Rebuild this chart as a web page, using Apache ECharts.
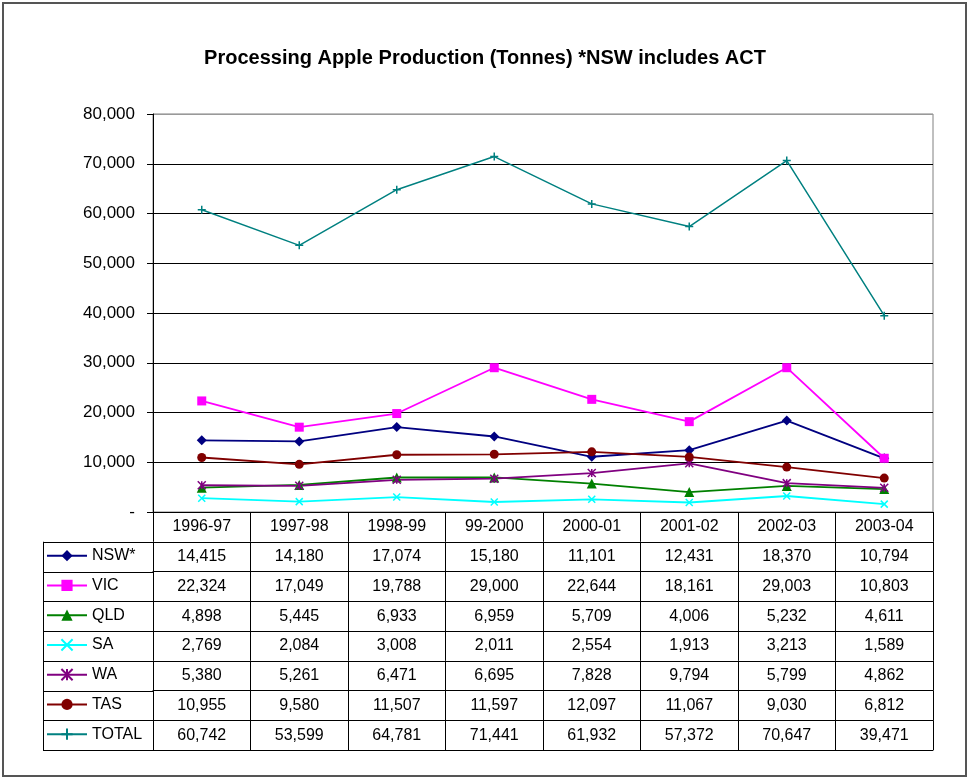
<!DOCTYPE html>
<html>
<head>
<meta charset="utf-8">
<script src="https://cdn.jsdelivr.net/npm/echarts@6/dist/echarts.min.js"></script>
<style>
html,body{margin:0;padding:0;background:#fff;}
#chart{width:970px;height:780px;}
</style>
</head>
<body>
<div id="chart"></div>
<script>
const categories = ['1996-97','1997-98','1998-99','99-2000','2000-01','2001-02','2002-03','2003-04'];
const seriesNames = ['NSW*','VIC','QLD','SA','WA','TAS','TOTAL'];
const nsw   = [14415,14180,17074,15180,11101,12431,18370,10794];
const vic   = [22324,17049,19788,29000,22644,18161,29003,10803];
const qld   = [4898,5445,6933,6959,5709,4006,5232,4611];
const sa    = [2769,2084,3008,2011,2554,1913,3213,1589];
const wa    = [5380,5261,6471,6695,7828,9794,5799,4862];
const tas   = [10955,9580,11507,11597,12097,11067,9030,6812];
const total = [60742,53599,64781,71441,61932,57372,70647,39471];
const yTicks = [0,10000,20000,30000,40000,50000,60000,70000,80000];

const seriesData = [nsw, vic, qld, sa, wa, tas, total];
const colors = ['#000080','#FF00FF','#008000','#00FFFF','#800080','#800000','#008080'];
const symbols = ['diamond','rect','triangle','path://M0,0L10,10M10,0L0,10','path://M5,0L5,10M0,0L10,10M10,0L0,10','circle','path://M5,0L5,10M0,5L10,5'];
const symbolSizes = [10,9,10,7,8,9,8];

const FONT = 'Liberation Sans';
const fmt = v => Number(v).toLocaleString('en-US');

const GRID_LEFT = 153, GRID_TOP = 114, GRID_RIGHT = 37, GRID_BOTTOM = 268;
const ROW_H = 29.75;
const HEADER_H = 29.75;

const chart = echarts.init(document.getElementById('chart'), null, {renderer:'canvas'});

const xAxes = [];
xAxes.push({
  type:'category', data:categories, gridIndex:0, position:'bottom', offset:0,
  boundaryGap:true,
  axisLine:{show:true, lineStyle:{color:'#000', width:1}},
  axisTick:{show:true, length:HEADER_H, interval:0, lineStyle:{color:'#000', width:1}},
  axisLabel:{show:true, interval:0, margin:7, fontSize:16, color:'#000', fontFamily:FONT},
  splitLine:{show:false}
});
seriesData.forEach((arr, k) => {
  xAxes.push({
    type:'category', data:categories, gridIndex:0, position:'bottom', offset:HEADER_H + k*ROW_H,
    boundaryGap:true,
    axisLine:{show:true, lineStyle:{color:'#000', width:1}},
    axisTick:{show:true, length:ROW_H, interval:0, lineStyle:{color:'#000', width:1}},
    axisLabel:{show:true, interval:0, margin:7, fontSize:16, color:'#000', fontFamily:FONT,
      formatter:(v, idx) => fmt(arr[idx])},
    splitLine:{show:false}
  });
});
xAxes.push({
  type:'category', data:categories, gridIndex:0, position:'bottom', offset:HEADER_H + seriesData.length*ROW_H,
  axisLine:{show:true, lineStyle:{color:'#000', width:1}},
  axisTick:{show:false}, axisLabel:{show:false}, splitLine:{show:false}
});

const series = seriesData.map((arr, k) => ({
  name: seriesNames[k],
  type:'line',
  xAxisIndex:0, yAxisIndex:0,
  data: arr,
  symbol: symbols[k],
  symbolSize: symbolSizes[k],
  showAllSymbol:true,
  lineStyle:{color:colors[k], width: k===6 ? 1.5 : 1.8},
  itemStyle:{color:colors[k], borderColor:colors[k], borderWidth: symbols[k].startsWith('path') ? 1.5 : 0},
  emphasis:{disabled:true},
  animation:false
}));

const tableTop = 512 + HEADER_H;
const graphics = [];
graphics.push({type:'rect', shape:{x:3, y:3, width:963, height:773}, style:{fill:'none', stroke:'#555', lineWidth:2}, silent:true});
for (let k = 0; k <= seriesData.length; k++) {
  const y = Math.round(tableTop + k*ROW_H) + 0.5;
  graphics.push({type:'line', shape:{x1:43, y1:y, x2:GRID_LEFT, y2:y}, style:{stroke:'#000', lineWidth:1}, silent:true});
}
graphics.push({type:'line', shape:{x1:43.5, y1:tableTop, x2:43.5, y2:tableTop + seriesData.length*ROW_H}, style:{stroke:'#000', lineWidth:1}, silent:true});

const legends = seriesNames.map((n, k) => ({
  orient:'horizontal', left:46, top: tableTop + k*ROW_H + ROW_H/2 - 9,
  padding:0,
  itemWidth:40, itemHeight:14,
  data:[n],
  textStyle:{fontFamily:FONT, fontSize:16, color:'#000'},
  selectedMode:false
}));

const option = {
  backgroundColor:'#fff',
  animation:false,
  title:{
    text:'Processing Apple Production (Tonnes) *NSW includes ACT',
    left:'center', top:43,
    textStyle:{fontFamily:FONT, fontSize:20, fontWeight:'bold', color:'#000'}
  },
  legend: legends,
  grid:{left:GRID_LEFT, top:GRID_TOP, right:GRID_RIGHT, bottom:GRID_BOTTOM, containLabel:false,
    show:true, borderColor:'#808080', borderWidth:1, backgroundColor:'transparent'},
  xAxis: xAxes,
  yAxis:{
    type:'value', min:yTicks[0], max:yTicks[yTicks.length-1], interval:yTicks[1]-yTicks[0],
    axisLine:{show:true, lineStyle:{color:'#000', width:1}},
    axisTick:{show:true, length:6, lineStyle:{color:'#000'}},
    axisLabel:{margin:18, fontSize:17, color:'#000', fontFamily:FONT,
      formatter: v => v === 0 ? '-' : fmt(v)},
    splitLine:{show:true, lineStyle:{color:['#000','#000','#000','#000','#000','#000','#000','#000','#999'], width:1}}
  },
  series: series,
  graphic: graphics
};
chart.setOption(option);
</script>
</body>
</html>
